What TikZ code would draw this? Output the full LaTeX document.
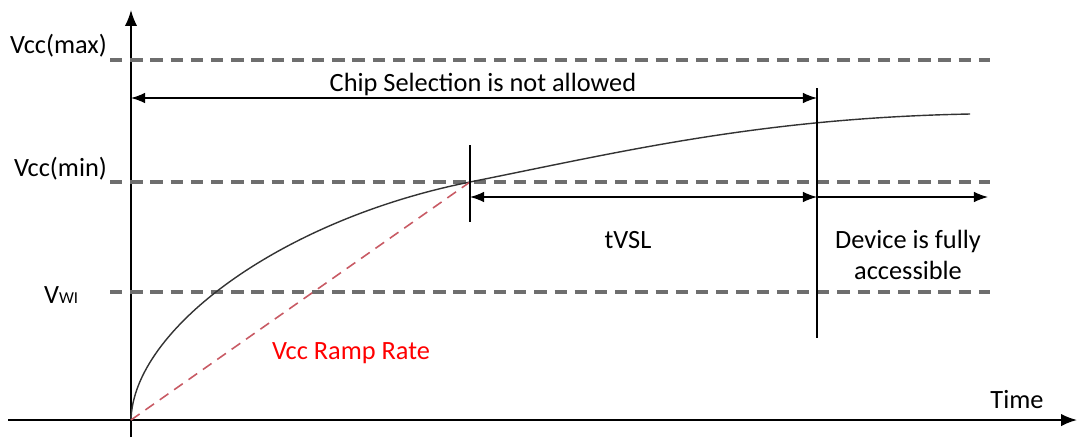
\documentclass[tikz,border=0pt]{standalone}
\usepackage{fontspec}
\setmainfont{Carlito}
\usetikzlibrary{arrows.meta,positioning}
\definecolor{rampred}{RGB}{200,90,100}
\definecolor{levelgray}{RGB}{110,110,110}
\tikzset{
  level/.style={levelgray, line width=1.8pt, dash pattern=on 7pt off 4.5pt},
  dim/.style={{Latex[length=8pt,width=6pt]}-{Latex[length=8pt,width=6pt]}, line width=0.7pt},
  lbl/.style={font=\fontsize{15}{18}\selectfont, inner sep=1pt}
}
\begin{document}
\begin{tikzpicture}[x=0.02cm, y=-0.02cm]
            \useasboundingbox (0,0) rectangle (1077,437);

            % axes
            \coordinate (O) at (131,420);
            \coordinate (ytop) at (131,10);
            \coordinate (ybot) at (131,437);
            \coordinate (xleft) at (8,420);
            \coordinate (xright) at (1077,420);
            \draw[-{Latex[length=9pt,width=7pt]}, line width=1pt] (ybot) -- (ytop);
            \draw[-{Latex[length=9pt,width=7pt]}, line width=1pt] (xleft) -- (xright);
            \node[lbl, anchor=base] (time) at (1017,408) {Time};

            % voltage levels
            \coordinate (maxL) at (110,60);  \coordinate (maxR) at (990,60);
            \coordinate (minL) at (110,182); \coordinate (minR) at (990,182);
            \coordinate (wiL) at (110,292);  \coordinate (wiR) at (990,292);
            \draw[level] (maxL) -- (maxR);
            \draw[level] (minL) -- (minR);
            \draw[level] (wiL) -- (wiR);
            \node[lbl, anchor=base east] (vmax) at (109,53) {Vcc(max)};
            \node[lbl, anchor=base east] (vmin) at (109,176) {Vcc(min)};
            \node[lbl, anchor=base west] (vwi) at (42,303) {V{\fontsize{9.5}{11}\selectfont WI}};

            % Vcc ramp
            \coordinate (cross) at (470,182);
            \coordinate (cend) at (970,114);
            \draw[line width=0.8pt, black!80] (O) .. controls (133,330) and (280,220) .. (cross)
                .. controls (620,152) and (760,118) .. (cend);
            \draw[rampred, line width=0.9pt, dash pattern=on 6pt off 4pt] (O) -- (cross);
            \node[lbl, text=red] (ramp) at (351,353) {Vcc Ramp Rate};

            % markers
            \coordinate (m1top) at (470,145); \coordinate (m1bot) at (470,222);
            \coordinate (m2top) at (817,88);  \coordinate (m2bot) at (817,338);
            \draw[line width=0.9pt] (m1top) -- (m1bot);
            \draw[line width=0.9pt] (m2top) -- (m2bot);

            % intervals
            \coordinate (csL) at (131,98);  \coordinate (csR) at (817,98);
            \coordinate (vsL) at (470,197); \coordinate (vsR) at (817,197);
            \coordinate (daR) at (988,197);
            \draw[dim] (csL) -- (csR);
            \node[lbl, anchor=base] (chipsel) at (483,91) {Chip Selection is not allowed};
            \draw[dim] (vsL) -- (vsR);
            \draw[-{Latex[length=8pt,width=6pt]}, line width=0.7pt] (vsR) -- (daR);
            \node[lbl] (tvsl) at (628,240) {tVSL};
            \node[lbl, align=center] (device) at (908,255) {Device is fully\\accessible};
\end{tikzpicture}
\end{document}
